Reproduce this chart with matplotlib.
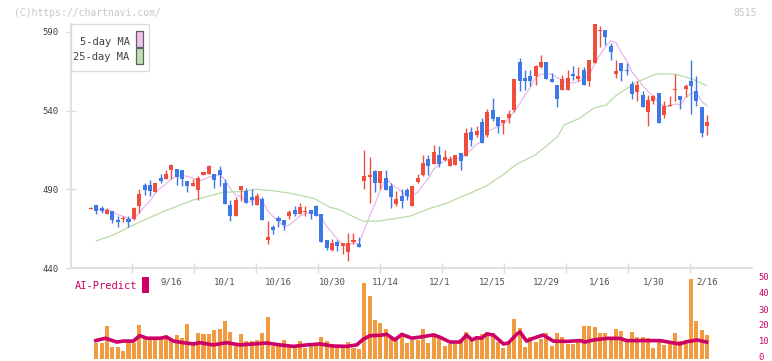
import numpy as np
import pandas as pd
import matplotlib
matplotlib.use('Agg')
import matplotlib.pyplot as plt
from matplotlib.patches import Rectangle
from matplotlib.transforms import blended_transform_factory, ScaledTranslation

plt.rcParams['font.family'] = ['DejaVu Sans Mono']

# daily candles (open, high, low, close)
opens = [477.7, 480, 478, 474.3, 476.2, 470.2, 471, 471.3, 471.3, 479.5,
         492.5, 493, 488.3, 497.2, 496.7, 502, 502.8, 502.3, 495, 492.3,
         489.6, 499.2, 499.8, 499.7, 502.3, 494.2, 480, 472.8, 489.6, 488.8,
         485, 479.8, 483.8, 457.5, 466, 471.5, 470.3, 472.8, 476.6, 474,
         475.3, 476.8, 479.1, 474.1, 457.5, 451.6, 456.3, 454.1, 449.9, 456.6,
         455.2, 495, 497.7, 501.4, 494, 497.1, 492.1, 480.5, 485.9, 489.3,
         479.5, 494.8, 499.2, 509.4, 506.1, 511.8, 508.6, 504.5, 505.4, 513.3,
         511, 526.7, 524.6, 532.7, 524.6, 540.1, 535.9, 532.1, 535.6, 540.4,
         570.8, 560.7, 562.2, 561.8, 567.7, 571, 560, 556.3, 553.1, 553.1,
         563.4, 560, 565.8, 558.6, 570, 590.5, 591.2, 581, 563.3, 570.1,
         565.8, 556.9, 551.5, 549.8, 539.4, 545.8, 551, 537.2, 542.6, 552.8,
         549.3, 553.6, 559, 552.2, 542.1, 530]
highs = [478.5, 480, 479.5, 478, 476.2, 473, 473, 473, 478.8, 490,
         494, 496, 494.2, 500, 502, 506.2, 502.8, 502.3, 495, 496.8,
         498.5, 500.9, 505.5, 499.7, 504.5, 496.3, 483.2, 485.3, 492, 490.7,
         490, 487.6, 485.3, 470, 467.4, 473, 470.3, 476.8, 479.1, 481.6,
         479.1, 476.8, 480, 474.1, 457.5, 458.3, 457.5, 455.8, 462.2, 462.2,
         459.4, 515, 510.5, 502.3, 501.4, 502.3, 494.2, 488.7, 490, 490.7,
         492.2, 499.7, 511.8, 511.8, 518.2, 517.5, 515, 511.2, 511.8, 513.3,
         528.9, 529.6, 530.4, 535.3, 541, 548, 535.9, 534.2, 540.4, 560,
         573.6, 565.8, 565.8, 569.2, 575.3, 571, 563.9, 556.3, 562.7, 565.8,
         568.5, 568, 568, 572.1, 595, 593.7, 591.2, 582.8, 572, 570.1,
         570, 558.5, 558.5, 552.2, 549.8, 549.8, 551, 546.1, 549, 563.4,
         549.3, 557.1, 572.1, 561.7, 542.1, 537.2]
lows = [477.5, 474, 475, 474.3, 468.4, 466, 469.2, 466, 470.8, 474.8,
        486.4, 485.7, 488.3, 493.8, 496.7, 496.3, 492.9, 491.8, 488.4, 492.3,
        483.2, 499.2, 499.8, 490.7, 491.8, 480.7, 469.7, 472.8, 482.8, 481.6,
        480, 479.8, 470.7, 455.2, 461.6, 466, 464.3, 471, 472.8, 474,
        473, 471, 472.8, 456.8, 451.6, 450.5, 450.5, 448.7, 444.7, 455.2,
        453.6, 490, 481, 488, 490, 489.7, 478, 479.1, 478, 483.2,
        479.5, 493.9, 498.5, 499.2, 506.1, 504, 508, 504.5, 505.4, 502.3,
        511, 517.5, 523.5, 519.4, 523.5, 533.1, 525.7, 525.2, 532.1, 538.8,
        552.2, 553, 555.6, 556.3, 567, 560, 558.3, 542, 553.1, 552.8,
        559.4, 558.5, 556.3, 555.6, 570, 580.7, 581.7, 572, 560.7, 558.6,
        562.7, 547.5, 546.1, 542, 530, 544, 532.1, 535, 542.6, 546.1,
        541, 548.5, 537.8, 542.6, 523.5, 524.6]
closes = [478.2, 476.5, 476.5, 476.8, 470.5, 469.2, 471.5, 469.5, 478, 487,
          489.6, 488.6, 494.2, 495, 499.7, 505.2, 497.7, 496.6, 491.8, 494.2,
          497, 500.9, 504.5, 495.7, 498.8, 480.7, 472.8, 483.2, 492, 481.6,
          482.9, 485.9, 470.7, 459.5, 464.3, 469.6, 467.3, 475.3, 474, 478.7,
          476.2, 474, 472.8, 456.8, 452.4, 455.8, 453.7, 455.8, 455.8, 457.8,
          453.6, 498.2, 499.2, 494, 501.4, 489.7, 484.9, 483.8, 482.7, 485.5,
          492.2, 497.4, 506.6, 504.5, 514, 506.1, 510.3, 509, 511.8, 507.7,
          525.7, 521.4, 527.2, 519.4, 539.1, 534.6, 530, 534.2, 537.9, 560,
          558.6, 558.6, 558.6, 568.1, 571, 560, 558.3, 547.5, 560, 560.7,
          561.7, 562.2, 556.3, 572.1, 595, 591.3, 586.7, 576.9, 565.2, 564.9,
          564.9, 550.5, 556.3, 542, 546.7, 549.3, 532.1, 542.9, 543.2, 553.6,
          546.7, 555.4, 555.6, 545.8, 525.7, 532.7]

volume = [0, 10, 10, 20.6, 7.5, 7.5, 5, 10, 10, 21.3,
          14.2, 11.7, 11.7, 13.3, 15, 11.7, 15, 13.3, 21.9, 10.8,
          16.2, 15.8, 15.8, 18.1, 18.7, 23.7, 17.1, 10, 15.8, 11.2,
          11.2, 11.9, 16.5, 26.2, 8.4, 8.4, 11.9, 8.4, 8.4, 11.2,
          7.1, 8.4, 8.4, 14, 11.2, 9.2, 7.1, 7.1, 10.6, 7.1,
          6.3, 47.7, 39.4, 24.4, 22.7, 19, 14.2, 11.7, 15, 10,
          11.7, 11.7, 18.7, 10, 16, 13.3, 8.1, 9.6, 9.6, 12.5,
          16.9, 11.7, 12.5, 15.8, 17.1, 16.2, 10.8, 6.9, 10.8, 25,
          19.4, 7.5, 13.7, 10.8, 12.5, 16.2, 8.1, 16.2, 13.7, 9.4,
          9.4, 10.8, 20.9, 20.6, 20, 16.2, 16.2, 12.5, 18.7, 17.5,
          10.4, 16.9, 13.7, 13.7, 13.3, 6.9, 12.1, 8.9, 9.4, 16.2,
          11.2, 11.9, 50, 23.7, 18.1, 15]

# 25-day moving average, read at day positions
ma25_day = [1, 4.2, 7.9, 10.3, 13.5, 16.6, 19.1, 21.6, 24.7, 27.8,
            30.9, 34.0, 37.1, 41.5, 44.6, 46.6, 48.3, 50.8, 53.9, 57.1,
            59.6, 63.3, 66.4, 68.9, 71.1, 74.1, 77.3, 79.2, 82.9, 84.1,
            87.1, 88.3, 91.2, 93.8, 96.2, 97.9, 101.7, 105.5, 109.2, 112.2, 114.9]
ma25_val = [457.2, 461, 467.3, 471, 475.8, 480, 483.2, 485.3, 488.1, 488.5,
            490, 489.1, 487.5, 484.3, 478.6, 476.8, 473.7, 469.7, 469.9, 471.6,
            473, 477.9, 481.1, 484.9, 488, 492.7, 500.2, 505.4, 511.8, 515,
            523.4, 530.8, 535.1, 541.5, 543.6, 549.3, 557.8, 563.3, 563.1, 560.1, 555.8]

# AI-Predict line
ai_day = [0.9, 2.7, 4.8, 6.0, 7.9, 9.1, 10.4, 12.9, 14.1, 15.4,
          17.2, 19.1, 20.3, 22.8, 25.3, 27.8, 30.3, 32.8, 35.3, 37.8,
          40.3, 42.7, 45.2, 47.7, 49.6, 50.8, 52.1, 53.9, 55.2, 56.7,
          58.0, 59.9, 61.4, 63.9, 65.1, 67.0, 68.9, 70.1, 71.1, 72.0,
          72.9, 73.9, 75.1, 77.0, 77.9, 79.5, 80.1, 81.3, 82.6, 84.4,
          86.3, 88.8, 91.3, 92.2, 93.8, 96.3, 98.7, 100.0, 103.7, 106.2,
          108.1, 109.9, 111.2, 113.1, 114.9]
ai_val = [11.5, 13, 10.6, 11.2, 11.2, 14.6, 13, 13, 13.7, 11.2,
          10.2, 9.4, 10.2, 8.8, 10.2, 8.8, 9.4, 10, 8.8, 7.9,
          8.8, 9.4, 8.1, 7.9, 8.8, 12.3, 14.6, 14.8, 15.4, 11.9,
          15.4, 13, 13.7, 15, 13.7, 10.6, 10.6, 15, 11.9, 13.3,
          13, 15.6, 15, 9.4, 10, 15.6, 16.9, 11.2, 13, 15,
          11.2, 11, 11.5, 10.6, 11.9, 12.9, 12.9, 11.5, 11.5, 11.5,
          10.4, 9.4, 10.8, 11.9, 10.6]

label_day = [15, 25, 35, 45, 55, 65, 75, 85, 95, 105, 115]
date_labels = ['9/16', '10/1', '10/16', '10/30', '11/14', '12/1',
               '12/15', '12/29', '1/16', '1/30', '2/16']
tick_day = [7.7 + 11.574 * k for k in range(10)]

RED = '#f04e3c'
BLUE = '#3d78e6'
GRID = '#dcdcdc'
MAG = '#cc0066'

W, H = 772, 361
fig = plt.figure(figsize=(W / 100, H / 100), dpi=100)


def fx(px):
    return px / W


def fy(py):
    return 1 - py / H


x0, x1 = 70.7, 751.7
ax = fig.add_axes([fx(x0), fy(268), fx(x1 - x0), (268 - 24) / H])
day = np.arange(len(opens))
o = np.array(opens)
c = np.array(closes)
up = c >= o
colors = np.where(up, RED, BLUE)
ax.vlines(day, lows, highs, colors=colors, lw=1, zorder=3)
body = np.maximum(np.abs(c - o), 0.7)
ax.bar(day, body, bottom=np.minimum(o, c), width=0.75, color=colors, zorder=4)

ma5 = pd.Series(closes).rolling(5, min_periods=1).mean()
ax.plot(day[1:], ma5[1:], color='#e8b8ec', lw=0.9, zorder=2)
ax.plot(ma25_day, ma25_val, color='#b8dca8', lw=0.9, zorder=2)

xmin = (x0 - 91) / 5.357
xmax = (x1 - 91) / 5.357
ax.set_xlim(xmin, xmax)
ax.set_ylim(440, 595)
ax.set_yticks([440, 490, 540, 590])
ax.set_xticks(tick_day)
ax.set_xticklabels([])
for s in ['top', 'right']:
    ax.spines[s].set_visible(False)
for s in ['left', 'bottom']:
    ax.spines[s].set_color(GRID)
    ax.spines[s].set_linewidth(1.2)
ax.tick_params(axis='both', direction='inout', length=7, width=1, color=GRID,
               labelsize=6.5, labelcolor='#404040')
ax.tick_params(axis='y', pad=5)

tr = blended_transform_factory(ax.transData, fig.transFigure)
for d, lab in zip(label_day, date_labels):
    ax.text(d, fy(282), lab, transform=tr, ha='center', va='center',
            fontsize=6.5, color='#505050')

# volume panel
ax2 = fig.add_axes([fx(x0), fy(359), fx(x1 - x0), (359 - 279) / H])
ax2.bar(day, volume, width=0.75, color='#f29a40', zorder=2)
ax2.plot(ai_day, ai_val, color=MAG, lw=2.6, zorder=3)
ax2.set_xlim(xmin, xmax)
ax2.set_ylim(0, 50)
ax2.set_xticks([])
ax2.yaxis.tick_right()
ax2.set_yticks([0, 10, 20, 30, 40, 50])
ax2.tick_params(axis='y', length=0, pad=5, labelsize=6.3, labelcolor=MAG)
shift = ScaledTranslation(0, 2 / 100, fig.dpi_scale_trans)
for lab in ax2.get_yticklabels():
    lab.set_transform(lab.get_transform() + shift)
for s in ax2.spines.values():
    s.set_visible(False)
ax2.patch.set_visible(False)

# legend box
fig.add_artist(Rectangle((fx(x0), fy(71.3)), fx(148.7 - x0), (71.3 - 24) / H,
                         transform=fig.transFigure, facecolor='white',
                         edgecolor=GRID, lw=1, zorder=5))
fig.text(fx(129.7), fy(41.7), '5-day MA', ha='right', va='center',
         fontsize=7.5, color='#404040', zorder=6)
fig.text(fx(129.7), fy(57.3), '25-day MA', ha='right', va='center',
         fontsize=7.5, color='#404040', zorder=6)
fig.add_artist(Rectangle((fx(136.3), fy(46.7)), fx(6.4), 15.7 / H,
                         transform=fig.transFigure, facecolor='#f0c0f0',
                         edgecolor='#606060', lw=0.9, zorder=6))
fig.add_artist(Rectangle((fx(136.3), fy(63.7)), fx(6.4), 15.4 / H,
                         transform=fig.transFigure, facecolor='#c0e0b0',
                         edgecolor='#606060', lw=0.9, zorder=6))

# AI-Predict label
fig.text(fx(75), fy(286), 'AI-Predict', ha='left', va='center',
         fontsize=7.5, color=MAG)
fig.add_artist(Rectangle((fx(142.3), fy(292.7)), fx(6.7), 16 / H,
                         transform=fig.transFigure, facecolor=MAG,
                         edgecolor='none'))

fig.text(fx(14), fy(12.5), '(C)https://chartnavi.com/', ha='left', va='center',
         fontsize=7, color='#c8c8c8')
fig.text(fx(757), fy(12.5), '8515', ha='right', va='center',
         fontsize=7, color='#c8c8c8')

fig.savefig('out.png', dpi=100)
